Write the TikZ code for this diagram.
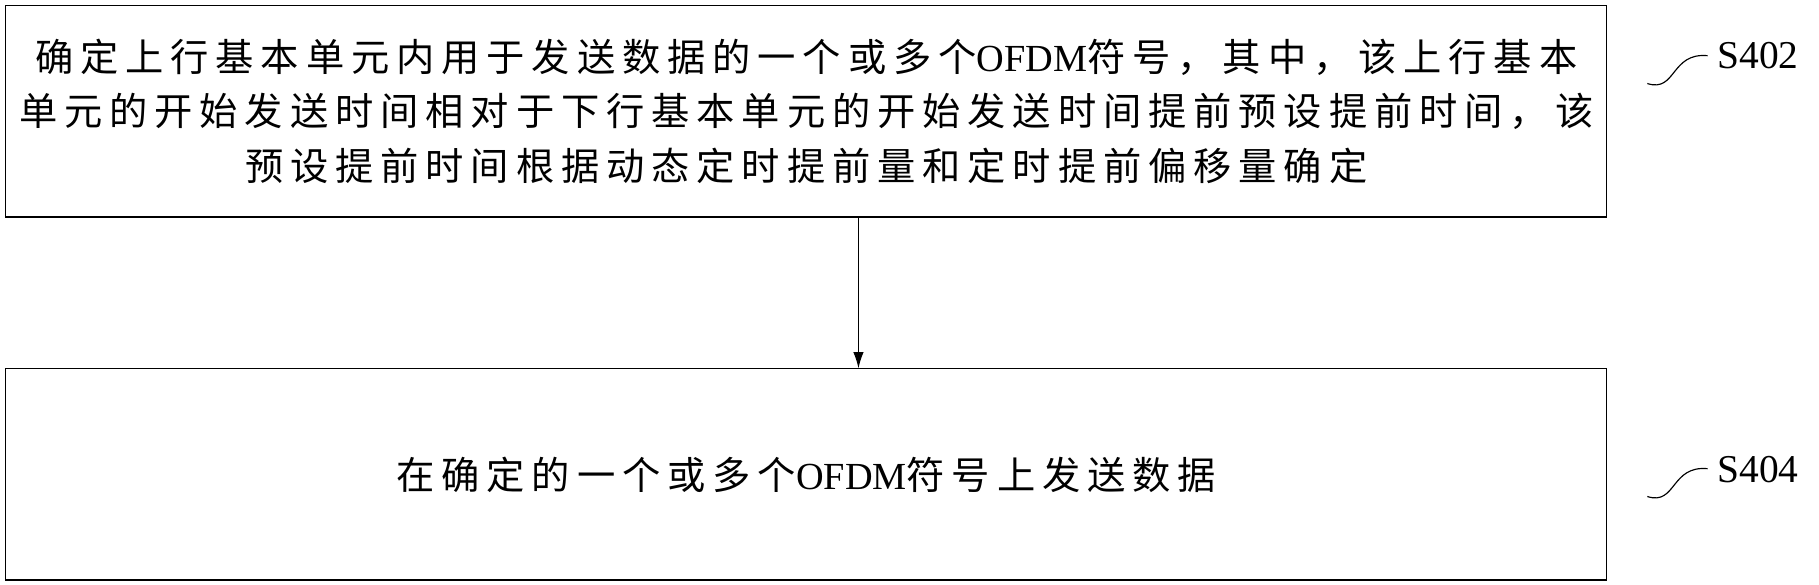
\documentclass[tikz,border=0pt]{standalone}
\usepackage{fontspec}
\setmainfont{Liberation Serif}
\newfontfamily\cjk[LetterSpace=18]{Noto Sans CJK SC}
\usetikzlibrary{positioning,arrows.meta}
\tikzset{
  stepbox/.style={draw, line width=1pt, minimum width=1380pt, minimum height=182pt,
    align=center, font=\fontsize{33}{47}\selectfont\cjk},
  steplabel/.style={font=\fontsize{34}{36}\selectfont, anchor=west}
}
\begin{document}
\begin{tikzpicture}[x=1pt, y=-1pt]
  \useasboundingbox (0,0) rectangle (1568,504);
  \node[stepbox] (s402) at (695,96) {确定上行基本单元内用于发送数据的一个或多个{\rmfamily OFDM}符号，其中，该上行基本\\
    单元的开始发送时间相对于下行基本单元的开始发送时间提前预设提前时间，该\\
    预设提前时间根据动态定时提前量和定时提前偏移量确定};
  \node[stepbox] (s404) at (695,409) {在确定的一个或多个{\rmfamily OFDM}符号上发送数据};
  \draw[-{Latex[length=14pt,width=9pt]}, line width=1pt] (s402.south -| 740,0) -- (s404.north -| 740,0);
  \node[steplabel] (l402) at (1477,48) {S402};
  \node[steplabel] (l404) at (1477,405) {S404};
  \draw[line width=1pt] (1420,72) .. controls (1445,80) and (1440,45) .. (1472,48);
  \draw[line width=1pt] (1420,428) .. controls (1445,436) and (1440,401) .. (1472,404);
\end{tikzpicture}
\end{document}
